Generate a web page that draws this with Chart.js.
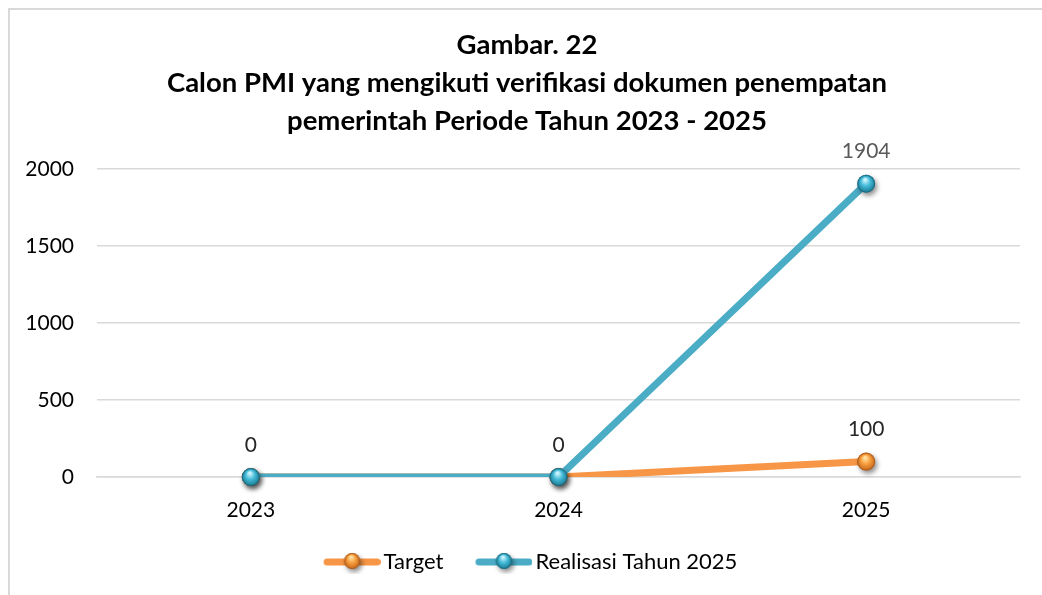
<!DOCTYPE html>
<html>
<head>
<meta charset="utf-8">
<script src="https://cdn.jsdelivr.net/npm/chart.js@4.4.1/dist/chart.umd.min.js"></script>
<style>
  html, body { margin: 0; padding: 0; background: #ffffff; }
  #wrap { position: relative; width: 1042px; height: 595px; }
</style>
</head>
<body>
<div id="wrap"><canvas id="c" width="1042" height="595"></canvas></div>
<script>
const categories = ['2023', '2024', '2025'];
const targetValues = [0, 0, 100];
const realisasiValues = [0, 0, 1904];
const targetLabelShown = [true, true, true];
const realisasiLabelShown = [false, false, true];
const titleLines = ['Gambar. 22', 'Calon PMI yang mengikuti verifikasi dokumen penempatan', 'pemerintah Periode Tahun 2023 - 2025'];
const seriesNames = ['Target', 'Realisasi Tahun 2025'];

const FONT = 'Lato, "Open Sans", sans-serif';
const BLUE = '#4BACC6';
const ORANGE = '#F79646';
const SPHERE = {
  [BLUE]: ['#c9f2fb', '#45bcd9', '#1a7891', '#145e72'],
  [ORANGE]: ['#ffe0a0', '#f7a040', '#c8661a', '#9a4f14']
};

function drawSphere(ctx, x, y, r, color) {
  const s = SPHERE[color];
  ctx.save();
  ctx.shadowColor = 'rgba(0,0,0,0.45)';
  ctx.shadowBlur = 5;
  ctx.shadowOffsetX = 2;
  ctx.shadowOffsetY = 3;
  const g = ctx.createRadialGradient(x - 1, y - 4, 1, x, y, r);
  g.addColorStop(0, s[0]);
  g.addColorStop(0.45, s[1]);
  g.addColorStop(1, s[2]);
  ctx.beginPath();
  ctx.arc(x, y, r, 0, Math.PI * 2);
  ctx.fillStyle = g;
  ctx.fill();
  ctx.restore();
  ctx.save();
  ctx.beginPath();
  ctx.arc(x, y, r - 0.5, 0, Math.PI * 2);
  ctx.strokeStyle = s[3];
  ctx.globalAlpha = 0.6;
  ctx.lineWidth = 1;
  ctx.stroke();
  ctx.restore();
}

// legend icon: line with sphere, drawn into an image used as the legend point style
function legendIcon(color) {
  const cv = document.createElement('canvas');
  cv.width = 72; cv.height = 24;
  const ctx = cv.getContext('2d');
  ctx.lineCap = 'round';
  ctx.strokeStyle = color;
  ctx.lineWidth = 7;
  ctx.beginPath();
  ctx.moveTo(18.5, 12); ctx.lineTo(68.5, 12);
  ctx.stroke();
  drawSphere(ctx, 43.5, 11, 8, color);
  return cv;
}

const spherePlugin = {
  id: 'spheres',
  afterDatasetDraw(chart, args) {
    const ds = chart.data.datasets[args.index];
    const ctx = chart.ctx;
    args.meta.data.forEach(pt => drawSphere(ctx, pt.x, pt.y, 9, ds.borderColor));
  }
};

const labelPlugin = {
  id: 'valueLabels',
  afterDatasetsDraw(chart) {
    const ctx = chart.ctx;
    chart.data.datasets.forEach((ds, i) => {
      const meta = chart.getDatasetMeta(i);
      meta.data.forEach((pt, j) => {
        if (!ds.labelShown[j]) return;
        ctx.save();
        ctx.font = '21px ' + FONT;
        ctx.fillStyle = ds.labelColor;
        ctx.textAlign = 'center';
        ctx.textBaseline = 'middle';
        ctx.fillText(String(ds.data[j]), pt.x, pt.y - 32);
        ctx.restore();
      });
    });
  }
};

const framePlugin = {
  id: 'frame',
  beforeDraw(chart) {
    const ctx = chart.ctx;
    ctx.save();
    ctx.strokeStyle = '#d9d9d9';
    ctx.lineWidth = 2;
    ctx.beginPath();
    ctx.moveTo(9, 595);
    ctx.lineTo(9, 9);
    ctx.lineTo(1042, 9);
    ctx.stroke();
    ctx.restore();
  }
};

new Chart(document.getElementById('c'), {
  type: 'line',
  data: {
    labels: categories,
    datasets: [
      {
        label: seriesNames[0],
        data: targetValues,
        borderColor: ORANGE,
        backgroundColor: ORANGE,
        borderWidth: 7,
        pointRadius: 0,
        tension: 0,
        order: 2,
        labelShown: targetLabelShown,
        labelColor: '#262626'
      },
      {
        label: seriesNames[1],
        data: realisasiValues,
        borderColor: BLUE,
        backgroundColor: BLUE,
        borderWidth: 7,
        pointRadius: 0,
        tension: 0,
        order: 1,
        labelShown: realisasiLabelShown,
        labelColor: '#595959'
      }
    ]
  },
  options: {
    responsive: false,
    animation: false,
    devicePixelRatio: 1,
    layout: { padding: { left: 20, right: 8, top: 0, bottom: 12 } },
    plugins: {
      title: {
        display: true,
        text: titleLines,
        color: '#000000',
        font: { family: FONT, size: 27.5, weight: 'bold', lineHeight: 1.38 },
        padding: { top: 26, bottom: 29 }
      },
      legend: {
        display: true,
        position: 'bottom',
        labels: {
          color: '#000000',
          font: { family: FONT, size: 22 },
          usePointStyle: true,
          pointStyleWidth: 56,
          padding: 25,
          generateLabels(chart) {
            return chart.data.datasets.map((ds, i) => ({
              text: ds.label,
              fontColor: '#000000',
              pointStyle: legendIcon(ds.borderColor),
              strokeStyle: ds.borderColor,
              fillStyle: ds.borderColor,
              lineWidth: 0,
              hidden: false,
              datasetIndex: i
            }));
          }
        }
      },
      tooltip: { enabled: false }
    },
    scales: {
      x: {
        offset: true,
        afterFit(scale) { scale.height = 49; },
        grid: { display: false, drawTicks: false },
        border: { display: true, color: '#d9d9d9', width: 1.5 },
        ticks: { color: '#000000', font: { family: FONT, size: 21 }, padding: 21 }
      },
      y: {
        min: 0,
        max: 2000,
        afterFit(scale) { scale.width = 77; },
        grid: { color: '#d9d9d9', lineWidth: 1.5, drawTicks: false },
        border: { display: false },
        ticks: {
          stepSize: 500,
          color: '#000000',
          font: { family: FONT, size: 21 },
          padding: 23,
          callback: v => String(v)
        }
      },
      yRight: {
        position: 'right',
        display: true,
        afterFit(scale) { scale.width = 14; },
        grid: { display: false, drawTicks: false },
        border: { display: false },
        ticks: { display: false }
      }
    }
  },
  plugins: [framePlugin, spherePlugin, labelPlugin]
});
</script>
</body>
</html>
